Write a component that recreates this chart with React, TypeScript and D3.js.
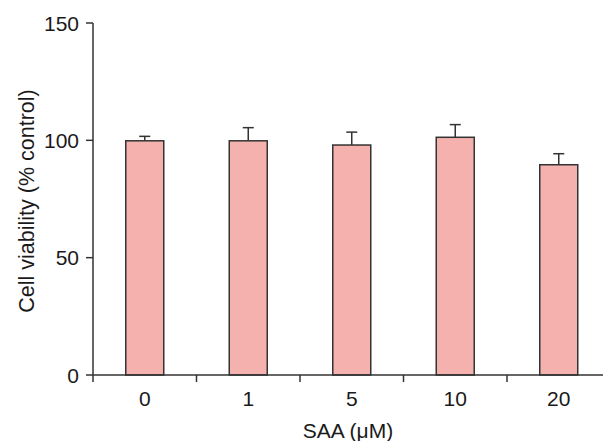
import { useEffect, useRef } from "react";
import * as d3 from "d3";

const categories = ["0", "1", "5", "10", "20"];
const viability = [99.8, 99.8, 98.0, 101.3, 89.6];
const errors = [1.9, 5.6, 5.5, 5.4, 4.7];
const yTicks = [0, 50, 100, 150];

const App = () => {
  const ref = useRef<SVGSVGElement | null>(null);

  useEffect(() => {
    const svg = d3.select(ref.current);
    svg.selectAll("*").remove();

    const left = 93;
    const top = 23;
    const bottom = 375;
    const step = 103.5;

    const x = d3
      .scaleBand()
      .domain([...categories, ""])
      .range([left, left + step * 6])
      .paddingInner(0)
      .paddingOuter(0);

    const y = d3.scaleLinear().domain([0, 150]).range([bottom, top]);

    const ink = "#333";
    const textInk = "#1a1a1a";
    const font = "Liberation Sans, Arial, sans-serif";

    // bars
    const barW = 38;
    svg
      .selectAll("rect.bar")
      .data(viability)
      .enter()
      .append("rect")
      .attr("class", "bar")
      .attr("x", (d, i) => x(categories[i])! + x.bandwidth() / 2 - barW / 2)
      .attr("y", (d) => y(d))
      .attr("width", barW)
      .attr("height", (d) => bottom - y(d))
      .attr("fill", "#f4b1ae")
      .attr("stroke", ink)
      .attr("stroke-width", 1.5);

    // error bars (upper only)
    const capW = 11;
    viability.forEach((d, i) => {
      const cx = x(categories[i])! + x.bandwidth() / 2;
      svg
        .append("line")
        .attr("x1", cx)
        .attr("x2", cx)
        .attr("y1", y(d))
        .attr("y2", y(d + errors[i]))
        .attr("stroke", ink)
        .attr("stroke-width", 1.5);
      svg
        .append("line")
        .attr("x1", cx - capW / 2)
        .attr("x2", cx + capW / 2)
        .attr("y1", y(d + errors[i]))
        .attr("y2", y(d + errors[i]))
        .attr("stroke", ink)
        .attr("stroke-width", 1.5);
    });

    // y axis
    svg
      .append("line")
      .attr("x1", left)
      .attr("x2", left)
      .attr("y1", top)
      .attr("y2", bottom)
      .attr("stroke", ink)
      .attr("stroke-width", 1.5);
    yTicks.forEach((t) => {
      svg
        .append("line")
        .attr("x1", left - 7)
        .attr("x2", left)
        .attr("y1", y(t))
        .attr("y2", y(t))
        .attr("stroke", ink)
        .attr("stroke-width", 1.5);
      svg
        .append("text")
        .attr("x", left - 14)
        .attr("y", y(t))
        .attr("dy", "0.36em")
        .attr("text-anchor", "end")
        .style("font-family", font)
        .style("font-size", "21px")
        .attr("fill", textInk)
        .text(t);
    });

    // x axis
    svg
      .append("line")
      .attr("x1", left)
      .attr("x2", 603)
      .attr("y1", bottom)
      .attr("y2", bottom)
      .attr("stroke", ink)
      .attr("stroke-width", 1.5);
    categories.forEach((c) => {
      svg
        .append("line")
        .attr("x1", x(c)!)
        .attr("x2", x(c)!)
        .attr("y1", bottom)
        .attr("y2", bottom + 7)
        .attr("stroke", ink)
        .attr("stroke-width", 1.5);
      svg
        .append("text")
        .attr("x", x(c)! + x.bandwidth() / 2)
        .attr("y", 406)
        .attr("text-anchor", "middle")
        .style("font-family", font)
        .style("font-size", "21px")
        .attr("fill", textInk)
        .text(c);
    });

    svg
      .append("text")
      .attr("x", 348)
      .attr("y", 438)
      .attr("text-anchor", "middle")
      .style("font-family", font)
      .style("font-size", "21px")
      .attr("fill", textInk)
      .text("SAA (μM)");

    svg
      .append("text")
      .attr("transform", `translate(34, 201) rotate(-90)`)
      .attr("text-anchor", "middle")
      .style("font-family", font)
      .style("font-size", "21.5px")
      .attr("fill", textInk)
      .text("Cell viability (% control)");
  }, []);

  return (
    <svg
      ref={ref}
      width={603}
      height={441}
      style={{ position: "absolute", left: 0, top: 0, background: "#fff" }}
    />
  );
};

export default App;
